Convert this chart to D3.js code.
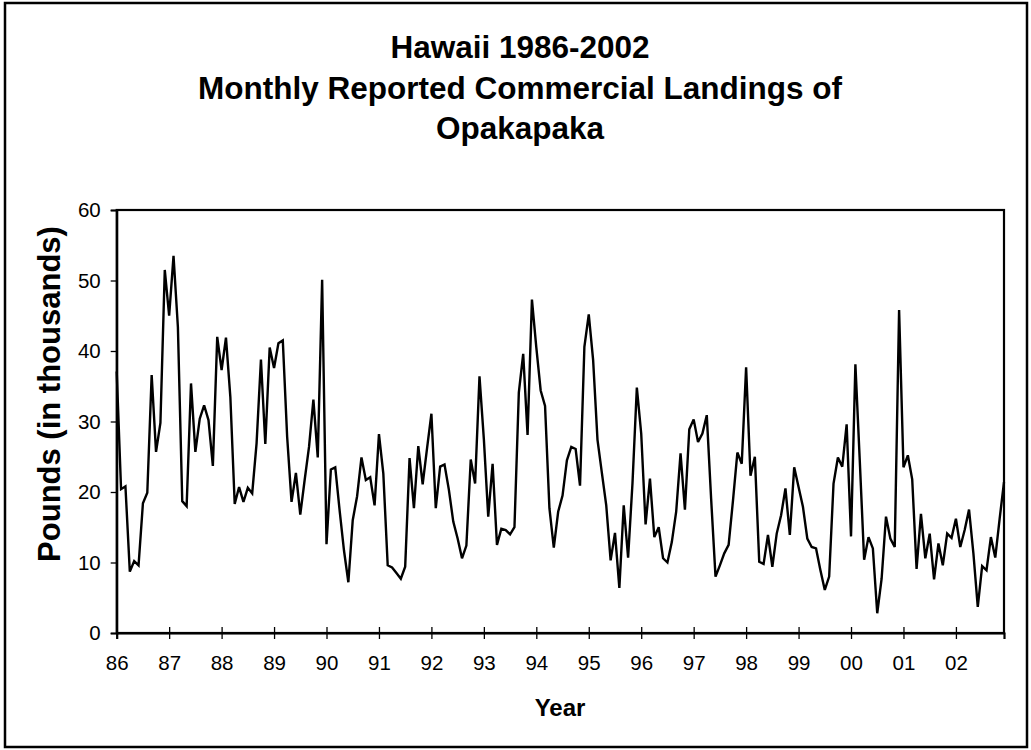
<!DOCTYPE html>
<html>
<head>
<meta charset="utf-8">
<script src="https://cdn.jsdelivr.net/npm/d3@7"></script>
<style>
  html, body { margin: 0; padding: 0; background: #fff; }
  text { font-family: "Liberation Sans", Arial, sans-serif; fill: #000; }
</style>
</head>
<body>
<svg id="chart" width="1031" height="750"></svg>
<script>
// Title lines
const titleLines = ["Hawaii 1986-2002", "Monthly Reported Commercial Landings of", "Opakapaka"];
const yAxisTitle = "Pounds (in thousands)";
const xAxisTitle = "Year";

// Year tick labels (one per January)
const yearLabels = ["86","87","88","89","90","91","92","93","94","95","96","97","98","99","00","01","02"];
const yTicks = [0, 10, 20, 30, 40, 50, 60];

// Monthly landings (thousands of pounds), Jan 1986 - Dec 2002, one array per year
const y1986 = [37.1, 20.4, 20.8, 8.7, 10.2, 9.6, 18.4, 19.9, 36.6, 25.7, 29.8, 51.5];
const y1987 = [45.0, 53.5, 43.4, 18.7, 18.0, 35.4, 25.7, 30.4, 32.3, 30.2, 23.7, 42.0];
const y1988 = [37.3, 41.9, 33.5, 18.3, 20.7, 18.6, 20.6, 19.8, 26.9, 38.8, 26.8, 40.5];
const y1989 = [37.6, 41.1, 41.5, 27.8, 18.6, 22.7, 16.8, 21.7, 26.4, 33.1, 24.9, 50.1];
const y1990 = [12.6, 23.2, 23.5, 17.4, 11.7, 7.2, 16.0, 19.4, 24.9, 21.7, 22.1, 18.1];
const y1991 = [28.2, 22.6, 9.6, 9.3, 8.5, 7.7, 9.4, 24.8, 17.7, 26.5, 21.1, 26.2];
const y1992 = [31.1, 17.7, 23.6, 23.9, 20.3, 15.8, 13.4, 10.6, 12.4, 24.6, 21.2, 36.4];
const y1993 = [27.5, 16.5, 24.0, 12.5, 14.8, 14.6, 14.0, 15.0, 34.1, 39.6, 28.1, 47.3];
const y1994 = [40.5, 34.4, 32.2, 17.7, 12.1, 17.2, 19.5, 24.5, 26.4, 26.1, 20.9, 40.6];
const y1995 = [45.2, 38.7, 27.4, 22.7, 18.1, 10.3, 14.2, 6.4, 18.1, 10.7, 21.2, 34.8];
const y1996 = [28.3, 15.4, 21.9, 13.6, 15.0, 10.6, 10.0, 12.9, 17.2, 25.5, 17.5, 28.9];
const y1997 = [30.3, 27.1, 28.3, 30.9, 19.0, 8.0, 9.6, 11.3, 12.5, 18.8, 25.6, 24.0];
const y1998 = [37.7, 22.3, 25.0, 10.1, 9.8, 13.9, 9.4, 14.1, 16.7, 20.5, 13.9, 23.5];
const y1999 = [20.7, 17.9, 13.4, 12.2, 12.0, 8.9, 6.1, 8.0, 21.2, 24.9, 23.6, 29.6];
const y2000 = [13.7, 38.1, 24.5, 10.4, 13.6, 12.0, 2.8, 7.7, 16.5, 13.4, 12.2, 45.8];
const y2001 = [23.5, 25.2, 21.8, 9.1, 16.9, 10.6, 14.1, 7.6, 12.7, 9.6, 14.1, 13.5];
const y2002 = [16.2, 12.2, 14.6, 17.5, 11.3, 3.7, 9.5, 8.9, 13.6, 10.7, 16.2, 21.4];

const landings = [].concat(y1986, y1987, y1988, y1989, y1990, y1991, y1992, y1993, y1994,
  y1995, y1996, y1997, y1998, y1999, y2000, y2001, y2002);

const svg = d3.select("#chart");
const W = 1031, H = 750;
const plot = { left: 116.7, right: 1004, top: 210, bottom: 633 };

svg.append("rect").attr("x", 0).attr("y", 0).attr("width", W).attr("height", H).attr("fill", "#fff");
// outer chart border
svg.append("rect").attr("x", 5).attr("y", 3).attr("width", 1022).attr("height", 744)
  .attr("fill", "none").attr("stroke", "#000").attr("stroke-width", 2.5);

const x = d3.scaleLinear().domain([0, landings.length - 1]).range([plot.left, plot.right]);
const y = d3.scaleLinear().domain([0, 60]).range([plot.bottom, plot.top]);

// Title
svg.append("g").selectAll("text").data(titleLines).join("text")
  .attr("x", 520).attr("y", (d, i) => 58 + i * 40.5)
  .attr("text-anchor", "middle").attr("font-size", 31.5).attr("font-weight", "bold")
  .text(d => d);

// plot frame
svg.append("rect").attr("x", plot.left).attr("y", plot.top)
  .attr("width", plot.right - plot.left).attr("height", plot.bottom - plot.top)
  .attr("fill", "none").attr("stroke", "#000").attr("stroke-width", 2.2);

// y axis
const yAxis = d3.axisLeft(y).tickValues(yTicks).tickSize(6).tickPadding(10).tickFormat(d3.format("d"));
const gy = svg.append("g").attr("transform", `translate(${plot.left},0)`).call(yAxis);
gy.select(".domain").attr("stroke", "#000").attr("stroke-width", 2.2);
gy.selectAll(".tick line").attr("stroke", "#000").attr("stroke-width", 1.3);
gy.selectAll(".tick text").attr("font-size", 20.5).attr("font-family", "Liberation Sans, Arial, sans-serif").attr("fill", "#000");

// x axis with crossing ticks
const yearIdx = yearLabels.map((d, i) => i * 12);
const xAxis = d3.axisBottom(x).tickValues(yearIdx).tickSize(6).tickPadding(16)
  .tickFormat((d, i) => yearLabels[i]);
const gx = svg.append("g").attr("transform", `translate(0,${plot.bottom})`).call(xAxis);
gx.select(".domain").attr("stroke", "#000").attr("stroke-width", 2.2);
gx.selectAll(".tick line").attr("y1", -6).attr("stroke", "#000").attr("stroke-width", 1.3);
gx.selectAll(".tick text").attr("font-size", 20.5).attr("font-family", "Liberation Sans, Arial, sans-serif").attr("fill", "#000");

// line
const line = d3.line().x((d, i) => x(i)).y(d => y(d));
svg.append("path").datum(landings).attr("d", line)
  .attr("fill", "none").attr("stroke", "#000").attr("stroke-width", 2.4)
  .attr("stroke-linejoin", "miter").attr("stroke-miterlimit", 3);

// axis titles
svg.append("text").attr("transform", "translate(60,394) rotate(-90)")
  .attr("text-anchor", "middle").attr("font-size", 31).attr("font-weight", "bold")
  .text(yAxisTitle);
svg.append("text").attr("x", 560).attr("y", 716)
  .attr("text-anchor", "middle").attr("font-size", 24).attr("font-weight", "bold")
  .text(xAxisTitle);
</script>
</body>
</html>
